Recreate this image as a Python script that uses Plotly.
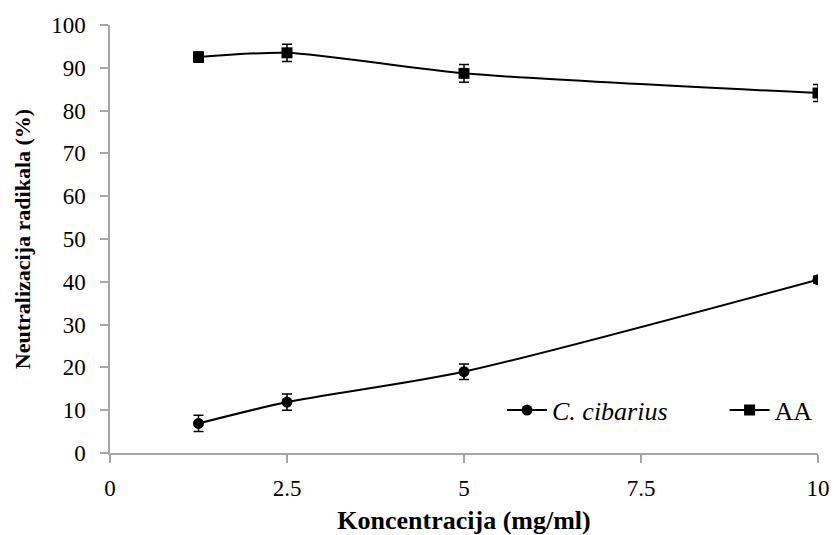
import plotly.graph_objects as go

# Concentrations (mg/ml) and radical neutralization (%) with standard deviations
konc = [1.25, 2.5, 5, 10]
cibarius = [6.9, 11.9, 19.0, 40.5]
cibarius_sd = [1.9, 1.9, 1.8, 0.8]
aa = [92.5, 93.5, 88.7, 84.1]
aa_sd = [1.2, 2.0, 2.1, 2.0]

x_ticks = [0, 2.5, 5, 7.5, 10]
x_labels = ["0", "2.5", "5", "7.5", "10"]
y_ticks = list(range(0, 101, 10))

font_family = "Liberation Serif"

fig = go.Figure()

fig.add_trace(go.Scatter(
    x=konc, y=cibarius, name="<i>C. cibarius</i>" + "\u00a0" * 8,
    mode="lines+markers",
    line=dict(color="black", width=2, shape="spline", smoothing=0.7),
    marker=dict(symbol="circle", size=11, color="black"),
    error_y=dict(type="data", array=cibarius_sd, color="black", thickness=1.5, width=5),
))

fig.add_trace(go.Scatter(
    x=konc, y=aa, name="AA",
    mode="lines+markers",
    line=dict(color="black", width=2, shape="spline", smoothing=0.7),
    marker=dict(symbol="square", size=11, color="black"),
    error_y=dict(type="data", array=aa_sd, color="black", thickness=1.5, width=5),
))

axis_common = dict(
    showgrid=False, zeroline=False, automargin=False,
    showline=True, linecolor="#a6a6a6", linewidth=1.5,
    ticks="outside", tickcolor="#a6a6a6", ticklen=8, tickwidth=1.5,
    tickfont=dict(family=font_family, size=23, color="black"),
)

fig.update_layout(
    width=835, height=535,
    margin=dict(l=110, r=17, t=25, b=82),
    plot_bgcolor="white", paper_bgcolor="white",
    font=dict(family=font_family, color="black"),
    xaxis=dict(
        range=[0, 10], tickvals=x_ticks, ticktext=x_labels,
        ticklabelstandoff=6,
        title=dict(text="<b>Koncentracija (mg/ml)</b>",
                   font=dict(family=font_family, size=26), standoff=10),
        **axis_common,
    ),
    yaxis=dict(
        range=[0, 100], tickvals=y_ticks,
        ticklabelstandoff=10,
        title=dict(text="<b>Neutralizacija radikala (%)</b>",
                   font=dict(family=font_family, size=22), standoff=14),
        **axis_common,
    ),
    legend=dict(
        orientation="h", x=1.0, y=0.1, xanchor="right", yanchor="middle",
        font=dict(family=font_family, size=26, color="black"),
        bgcolor="rgba(0,0,0,0)", itemwidth=40, tracegroupgap=0,
    ),
)

fig.write_html("out.html")
